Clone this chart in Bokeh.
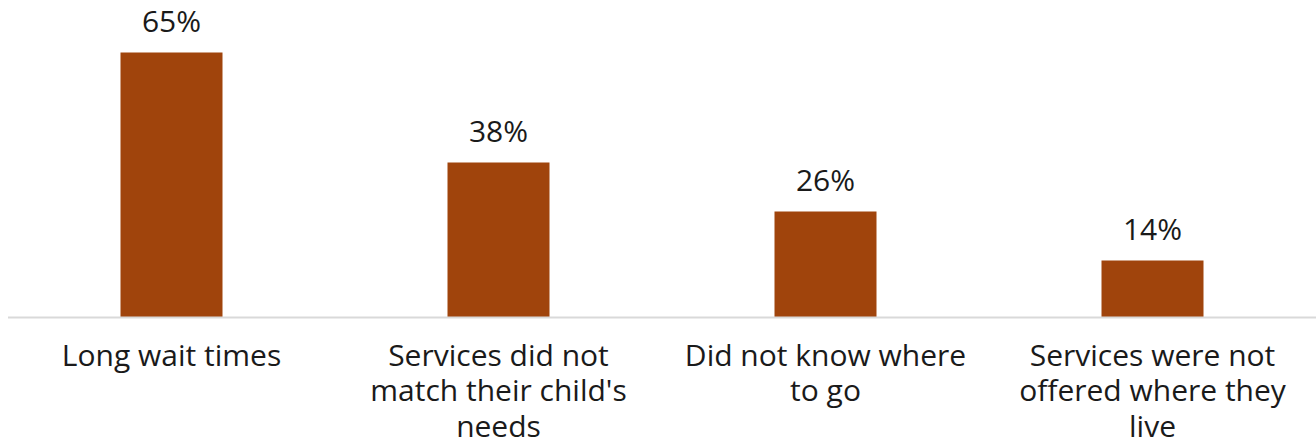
from bokeh.plotting import figure
from bokeh.models import ColumnDataSource, Range1d
from bokeh.core.properties import value
from bokeh.embed import file_html
from bokeh.resources import INLINE

categories = [
    "Long wait times",
    "Services did not\nmatch their child's\nneeds",
    "Did not know where\nto go",
    "Services were not\noffered where they\nlive",
]
values = [65, 38, 26, 14]
value_labels = [f"{v}%" for v in values]

W, H = 1316, 448
n = len(categories)
xs = list(range(n))

src = ColumnDataSource(dict(x=xs, top=values, cat=categories, lab=value_labels,
                            zero=[0] * n))

# pixel layout: baseline at y=317px, 65% bar top at 52px
base_px = 317.0
k = (317.0 - 52.0) / 65.0
slot = 327.0
c0 = 171.0

p = figure(width=W, height=H, output_backend="svg", toolbar_location=None,
           x_range=Range1d(-c0 / slot, (W - c0) / slot),
           y_range=Range1d(-(H - base_px) / k, base_px / k),
           min_border=0, min_border_left=0, min_border_right=0,
           min_border_top=0, min_border_bottom=0)
p.axis.visible = False
p.grid.visible = False
p.outline_line_color = None
p.background_fill_color = "white"
p.border_fill_color = "white"

p.vbar(x="x", top="top", bottom=0, width=102.0 / slot, source=src,
       fill_color="#A0440C", line_color=None)

# baseline axis line
p.segment(x0=[-0.5], x1=[n - 0.5 + 0.1], y0=[0], y1=[0],
          line_color="#d9d9d9", line_width=2)

font = value("Open Sans")
p.text(x="x", y="top", text="lab", source=src, text_font=font,
       text_font_size="30px", text_color="#1a1a1a", text_align="center",
       text_baseline="alphabetic", y_offset=-32)

p.text(x="x", y="zero", text="cat", source=src, text_font=font,
       text_font_size="30px", text_color="#1a1a1a", text_align="center",
       text_baseline="top", y_offset=16, text_line_height=0.87)

open("out.html", "w").write(file_html(p, INLINE))
